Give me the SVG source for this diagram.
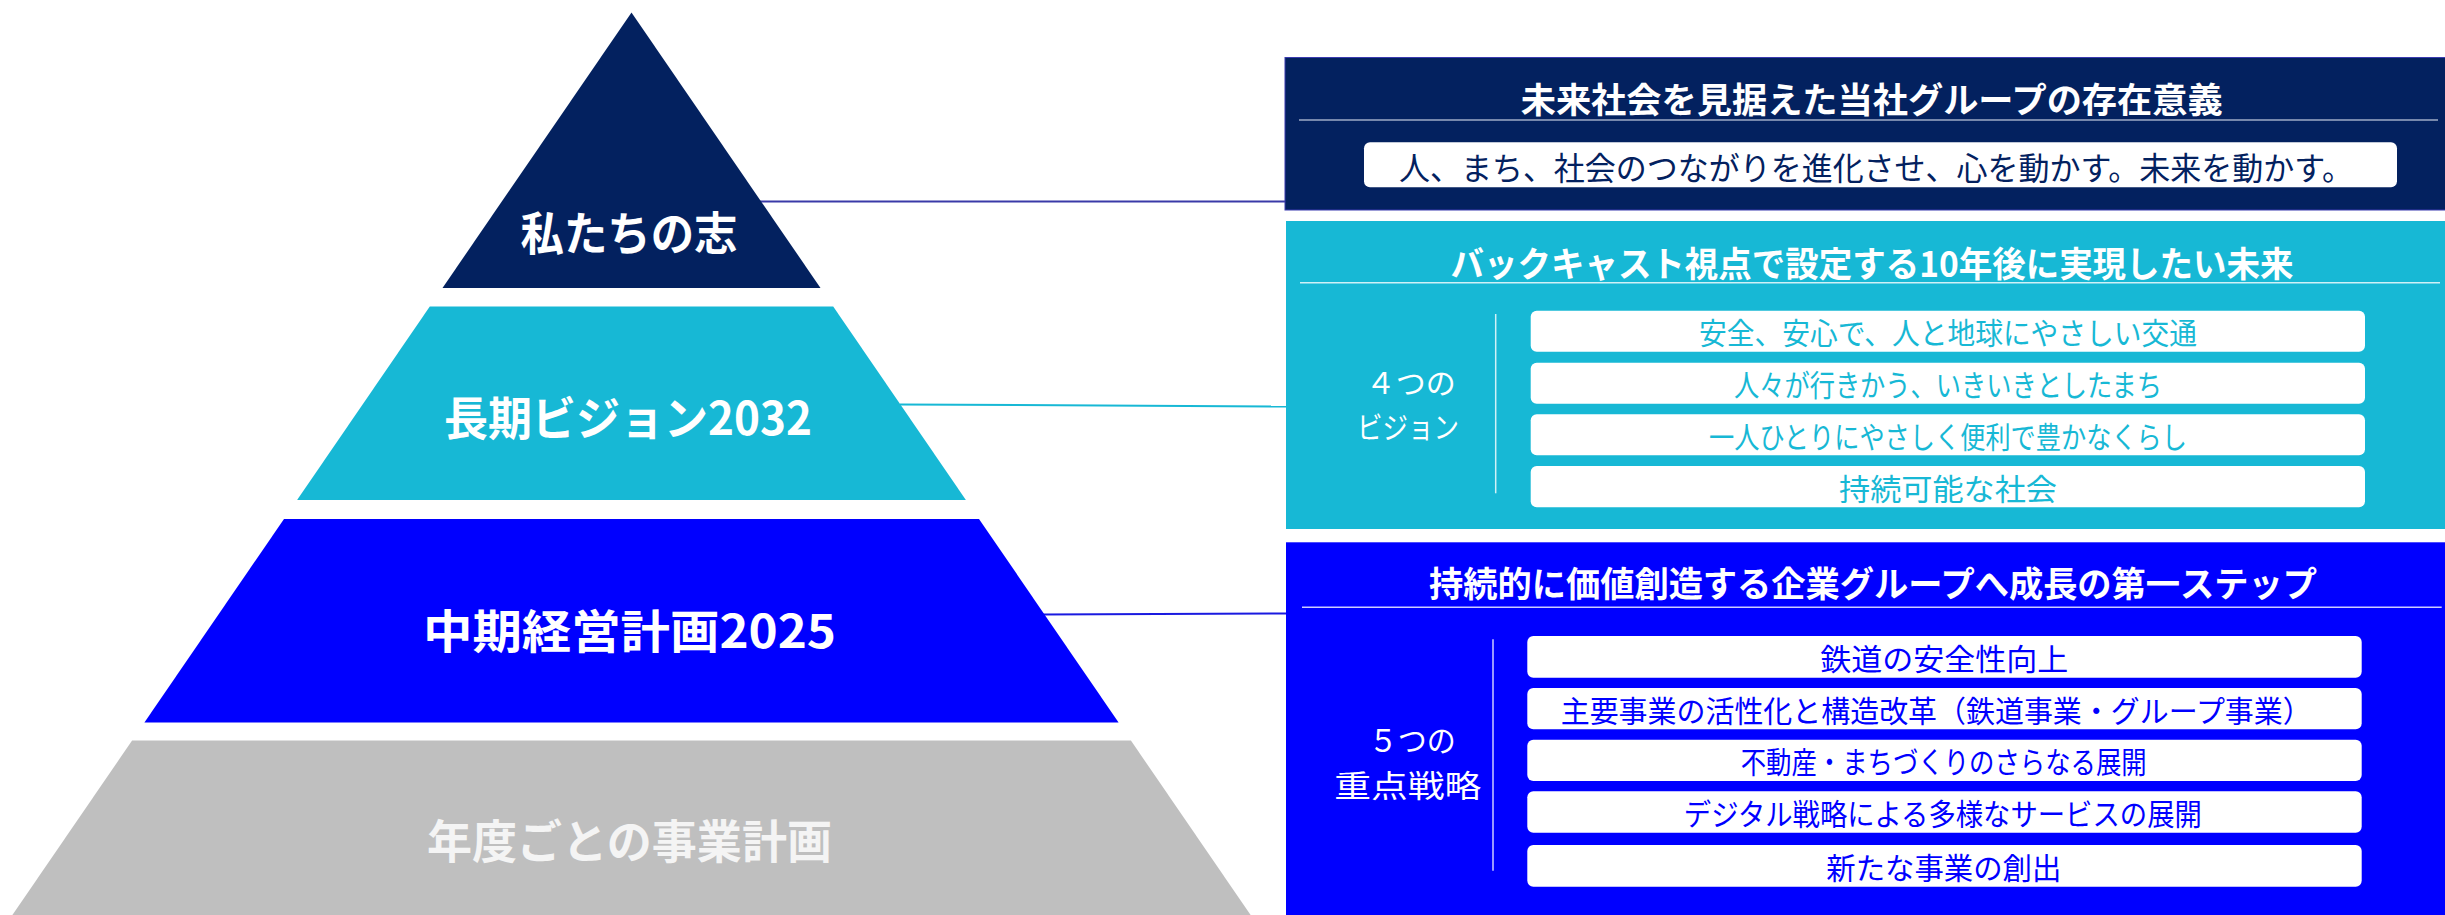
<svg xmlns="http://www.w3.org/2000/svg" width="2445" height="915" viewBox="0 0 2445 915">
<style>
  text { font-family: "Noto Sans CJK JP", "Noto Sans", sans-serif; dominant-baseline: central; text-anchor: middle; }
  .pyr { font-size: 46px; font-weight: bold; fill: #ffffff; }
  .title { font-size: 35px; font-weight: bold; fill: #ffffff; }
  .lbl { font-size: 30px; fill: #ffffff; }
  .item { font-size: 30px; }
  .sep { stroke: #ffffff; stroke-opacity: 0.8; stroke-width: 1.5; }
  .pill { fill: #ffffff; }
</style>
<rect width="2445" height="915" fill="#ffffff"/>

<g id="connectors" fill="none">
  <line x1="756" y1="201.5" x2="1286" y2="201.5" stroke="#3a3aa8" stroke-width="2"/>
  <line x1="900" y1="404.5" x2="1287" y2="406.5" stroke="#17b8d5" stroke-width="2"/>
  <line x1="1043" y1="614.5" x2="1287" y2="613.5" stroke="#1a1ae0" stroke-width="2"/>
</g>

<g id="pyramid-top">
  <polygon points="631.5,12.5 820.5,288 442.5,288" fill="#03215f"/>
  <text class="pyr" x="629" y="230" textLength="217" lengthAdjust="spacingAndGlyphs">私たちの志</text>
</g>
<g id="pyramid-vision">
  <polygon points="429.8,306.5 833.2,306.5 965.9,500 297.1,500" fill="#17b8d5"/>
  <text class="pyr" x="628" y="414.5" textLength="368" lengthAdjust="spacingAndGlyphs">長期ビジョン2032</text>
</g>
<g id="pyramid-midterm">
  <polygon points="284,519 979,519 1118.6,722.5 144.4,722.5" fill="#0000ff"/>
  <text class="pyr" x="629.5" y="627.5" textLength="413" lengthAdjust="spacingAndGlyphs">中期経営計画2025</text>
</g>
<g id="pyramid-annual">
  <polygon points="132.1,740.5 1130.9,740.5 1250.6,915 12.4,915" fill="#bfbfbf"/>
  <text class="pyr" x="629.5" y="837.5" textLength="405" lengthAdjust="spacingAndGlyphs" style="fill:#f4f4f4">年度ごとの事業計画</text>
</g>

<g id="box-purpose">
  <rect x="1285" y="57.5" width="1162" height="152.5" fill="#03215f" stroke="#3b3bb0" stroke-width="1"/>
  <text class="title" x="1871.7" y="97.5" textLength="702" lengthAdjust="spacingAndGlyphs">未来社会を見据えた当社グループの存在意義</text>
  <line class="sep" x1="1299" y1="120" x2="2438" y2="120" style="stroke:#c5cde0"/>
  <rect class="pill" x="1364" y="142.3" width="1033" height="45" rx="6"/>
  <text x="1876" y="165.5" textLength="954" lengthAdjust="spacingAndGlyphs" style="font-size:32px;fill:#03215f">人、まち、社会のつながりを進化させ、心を動かす。未来を動かす。</text>
</g>

<g id="box-vision">
  <rect x="1286" y="221" width="1161" height="308" fill="#17b8d5"/>
  <text class="title" x="1872" y="261" textLength="843" lengthAdjust="spacingAndGlyphs">バックキャスト視点で設定する10年後に実現したい未来</text>
  <line class="sep" x1="1300" y1="282.7" x2="2440" y2="282.7"/>
  <line class="sep" x1="1495.7" y1="314" x2="1495.7" y2="493.3"/>
  <text class="lbl"><tspan x="1410.7" y="381" textLength="90" lengthAdjust="spacingAndGlyphs">４つの</tspan><tspan x="1408" y="425" textLength="102" lengthAdjust="spacingAndGlyphs">ビジョン</tspan></text>
  <rect class="pill" x="1530.7" y="310.7" width="834.3" height="41" rx="6"/>
  <text class="item" x="1948" y="331.2" textLength="498" lengthAdjust="spacingAndGlyphs" fill="#17b8d5">安全、安心で、人と地球にやさしい交通</text>
  <rect class="pill" x="1530.7" y="362.7" width="834.3" height="41" rx="6"/>
  <text class="item" x="1948" y="383.2" textLength="428" lengthAdjust="spacingAndGlyphs" fill="#17b8d5">人々が行きかう、いきいきとしたまち</text>
  <rect class="pill" x="1530.7" y="414.3" width="834.3" height="41" rx="6"/>
  <text class="item" x="1948" y="434.8" textLength="478" lengthAdjust="spacingAndGlyphs" fill="#17b8d5">一人ひとりにやさしく便利で豊かなくらし</text>
  <rect class="pill" x="1530.7" y="466" width="834.3" height="41.3" rx="6"/>
  <text class="item" x="1948" y="486.7" textLength="218" lengthAdjust="spacingAndGlyphs" fill="#17b8d5">持続可能な社会</text>
</g>

<g id="box-midterm">
  <rect x="1286" y="542.3" width="1161" height="375" fill="#0000ff"/>
  <text class="title" x="1873" y="581" textLength="888" lengthAdjust="spacingAndGlyphs">持続的に価値創造する企業グループへ成長の第一ステップ</text>
  <line class="sep" x1="1302" y1="607.3" x2="2441.7" y2="607.3"/>
  <line class="sep" x1="1493" y1="639.3" x2="1493" y2="870.7"/>
  <text class="lbl" style="font-size:31px"><tspan x="1412.3" y="738" textLength="87" lengthAdjust="spacingAndGlyphs">５つの</tspan><tspan x="1407.7" y="783" textLength="147" lengthAdjust="spacingAndGlyphs">重点戦略</tspan></text>
  <rect class="pill" x="1527.3" y="636" width="834.4" height="41.7" rx="6"/>
  <text class="item" x="1944.2" y="656.8" textLength="248" lengthAdjust="spacingAndGlyphs" fill="#0000ff">鉄道の安全性向上</text>
  <rect class="pill" x="1527.3" y="688" width="834.4" height="41.3" rx="6"/>
  <text class="item" x="1936.2" y="708.7" textLength="751" lengthAdjust="spacingAndGlyphs" fill="#0000ff">主要事業の活性化と構造改革（鉄道事業・グループ事業）</text>
  <rect class="pill" x="1527.3" y="739.7" width="834.4" height="41.3" rx="6"/>
  <text class="item" x="1943.7" y="760.3" textLength="406" lengthAdjust="spacingAndGlyphs" fill="#0000ff">不動産・まちづくりのさらなる展開</text>
  <rect class="pill" x="1527.3" y="791.3" width="834.4" height="41.4" rx="6"/>
  <text class="item" x="1942.8" y="812" textLength="518" lengthAdjust="spacingAndGlyphs" fill="#0000ff">デジタル戦略による多様なサービスの展開</text>
  <rect class="pill" x="1527.3" y="845" width="834.4" height="41.7" rx="6"/>
  <text class="item" x="1943.8" y="865.8" textLength="235" lengthAdjust="spacingAndGlyphs" fill="#0000ff">新たな事業の創出</text>
</g>
</svg>
